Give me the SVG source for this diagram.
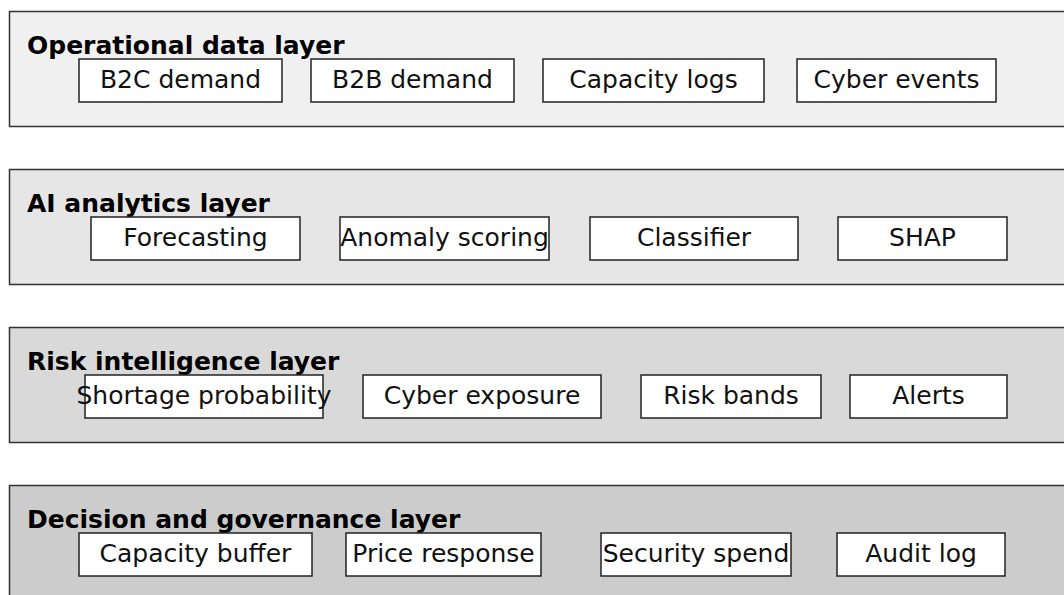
<svg xmlns="http://www.w3.org/2000/svg" width="1064" height="595" viewBox="0 0 1064 595">
  <style>
    .band { stroke: #333333; stroke-width: 1.5; }
    .box { fill: #ffffff; stroke: #222222; stroke-width: 1.5; }
    .title { font-family: "DejaVu Sans", sans-serif; font-weight: bold; font-size: 25px; fill: #000000; }
    .label { font-family: "DejaVu Sans", sans-serif; font-size: 25px; fill: #111111; text-anchor: middle; }
  </style>
  <rect width="1064" height="595" fill="#ffffff"/>

  <!-- Layer 1 -->
  <g id="layer-operational">
    <rect class="band" x="9.5" y="11.5" width="1070" height="115" fill="#f0f0f0"/>
    <text class="title" x="27" y="54">Operational data layer</text>
  </g>
  <g id="node-b2c"><rect class="box" x="79" y="59" width="203" height="43"/><text class="label" x="180.5" y="88">B2C demand</text></g>
  <g id="node-b2b"><rect class="box" x="311" y="59" width="203" height="43"/><text class="label" x="412.5" y="88">B2B demand</text></g>
  <g id="node-capacity-logs"><rect class="box" x="543" y="59" width="221" height="43"/><text class="label" x="653.5" y="88">Capacity logs</text></g>
  <g id="node-cyber-events"><rect class="box" x="797" y="59" width="199" height="43"/><text class="label" x="896.5" y="88">Cyber events</text></g>

  <!-- Layer 2 -->
  <g id="layer-analytics">
    <rect class="band" x="9.5" y="169.5" width="1070" height="115" fill="#e6e6e6"/>
    <text class="title" x="27" y="212">AI analytics layer</text>
  </g>
  <g id="node-forecasting"><rect class="box" x="91" y="217" width="209" height="43"/><text class="label" x="195.5" y="246">Forecasting</text></g>
  <g id="node-anomaly"><rect class="box" x="340" y="217" width="209" height="43"/><text class="label" x="444.5" y="246">Anomaly scoring</text></g>
  <g id="node-classifier"><rect class="box" x="590" y="217" width="208" height="43"/><text class="label" x="694" y="246">Classifier</text></g>
  <g id="node-shap"><rect class="box" x="838" y="217" width="169" height="43"/><text class="label" x="922.5" y="246">SHAP</text></g>

  <!-- Layer 3 -->
  <g id="layer-risk">
    <rect class="band" x="9.5" y="327.5" width="1070" height="115" fill="#d9d9d9"/>
    <text class="title" x="27" y="370">Risk intelligence layer</text>
  </g>
  <g id="node-shortage"><rect class="box" x="85" y="375" width="238" height="43"/><text class="label" x="204" y="404">Shortage probability</text></g>
  <g id="node-cyber-exposure"><rect class="box" x="363" y="375" width="238" height="43"/><text class="label" x="482" y="404">Cyber exposure</text></g>
  <g id="node-risk-bands"><rect class="box" x="641" y="375" width="180" height="43"/><text class="label" x="731" y="404">Risk bands</text></g>
  <g id="node-alerts"><rect class="box" x="850" y="375" width="157" height="43"/><text class="label" x="928.5" y="404">Alerts</text></g>

  <!-- Layer 4 -->
  <g id="layer-decision">
    <rect class="band" x="9.5" y="485.5" width="1070" height="130" fill="#cccccc"/>
    <text class="title" x="27" y="528">Decision and governance layer</text>
  </g>
  <g id="node-capacity-buffer"><rect class="box" x="79" y="533" width="233" height="43"/><text class="label" x="195.5" y="562">Capacity buffer</text></g>
  <g id="node-price-response"><rect class="box" x="346" y="533" width="195" height="43"/><text class="label" x="443.5" y="562">Price response</text></g>
  <g id="node-security-spend"><rect class="box" x="601" y="533" width="190" height="43"/><text class="label" x="696" y="562">Security spend</text></g>
  <g id="node-audit-log"><rect class="box" x="837" y="533" width="168" height="43"/><text class="label" x="921" y="562">Audit log</text></g>

  <g id="connectors"></g>
</svg>
